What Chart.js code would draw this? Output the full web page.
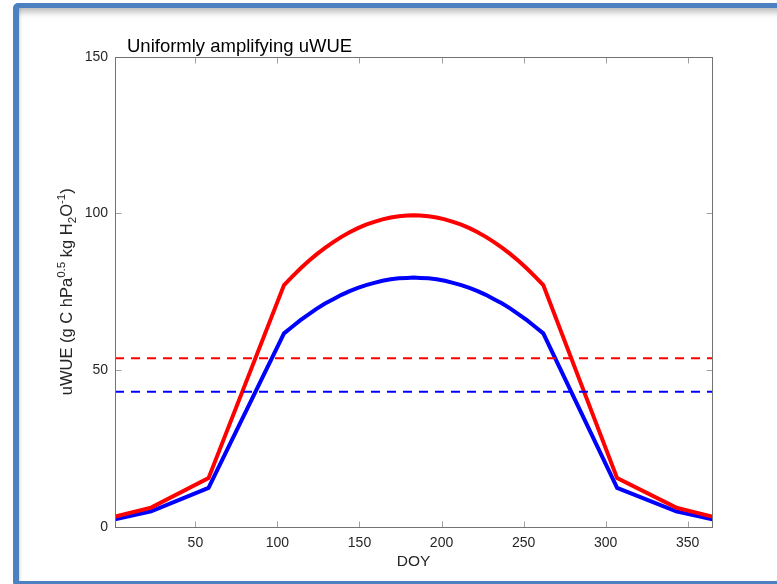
<!DOCTYPE html>
<html>
<head>
<meta charset="utf-8">
<title>Uniformly amplifying uWUE</title>
<script src="https://cdn.jsdelivr.net/npm/chart.js@4.4.1/dist/chart.umd.min.js"></script>
<style>
    html, body { margin: 0; padding: 0; background: #fff; overflow: hidden; width: 777px; height: 584px; }
    #frame {
        position: absolute; left: 13px; top: 3px;
        width: 820px; height: 584px; box-sizing: border-box;
        border: 6px solid #4c80c0; border-top-width: 5px;
        border-radius: 5px;
        box-shadow: inset 0 9px 7px -5px rgba(0, 0, 0, 0.28), inset 3px 0 3px -2px rgba(0, 0, 0, 0.15);
    }
    #chart { position: absolute; left: 0; top: 0; }
</style>
</head>
<body>
<div id="frame"></div>
<canvas id="chart" width="777" height="584"></canvas>
<script>
// Day of year and uWUE for the two scenarios
const doy = [1, 23, 58,
    104, 109, 114, 119, 124, 129, 134, 139, 144, 149, 154, 159, 164, 169, 174, 179,
    183, 187, 192, 197, 202, 207, 212, 217, 222, 227, 232, 237, 242, 247, 252, 257, 262,
    307, 343, 365];
const uwueRed = [3.2, 6.1, 15.5,
    77.1, 79.8, 82.4, 84.8, 87.0, 89.0, 90.8, 92.5, 94.0, 95.3, 96.4, 97.3, 98.1, 98.7, 99.1, 99.3,
    99.4, 99.3, 99.1, 98.7, 98.1, 97.3, 96.4, 95.3, 94.0, 92.5, 90.8, 89.0, 87.0, 84.8, 82.4, 79.8, 77.1,
    15.5, 6.1, 3.2];
const uwueBlue = [2.4, 4.9, 12.4,
    61.7, 63.8, 65.9, 67.8, 69.6, 71.2, 72.6, 74.0, 75.2, 76.2, 77.1, 77.8, 78.5, 79.0, 79.3, 79.4,
    79.5, 79.4, 79.3, 79.0, 78.5, 77.8, 77.1, 76.2, 75.2, 74.0, 72.6, 71.2, 69.6, 67.8, 65.9, 63.8, 61.7,
    12.4, 4.9, 2.4];

// Annual means (dashed lines)
const meanRed = 53.8;
const meanBlue = 43.1;

// Axes
const xRange = [1, 365];
const yRange = [0, 150];
const xTicks = [50, 100, 150, 200, 250, 300, 350];
const yTicks = [0, 50, 100, 150];

const FONT = '"Liberation Sans", Arial, Helvetica, sans-serif';

function toPoints(xs, ys) {
    return xs.map((v, i) => ({ x: v, y: ys[i] }));
}

function flatLine(value) {
    return xRange.map(v => ({ x: v, y: value }));
}

// Draws a run of text pieces with super/subscripts, centred on (0, 0)
function drawRichText(ctx, parts, size) {
    const widths = parts.map(p => {
        ctx.font = ((p.sup || p.sub) ? size * 0.7 : size) + 'px ' + FONT;
        return ctx.measureText(p.t).width;
    });
    const total = widths.reduce((a, b) => a + b, 0);
    let cx = -total / 2;
    parts.forEach((p, i) => {
        ctx.font = ((p.sup || p.sub) ? size * 0.7 : size) + 'px ' + FONT;
        let dy = 0;
        if (p.sup) dy = -size * 0.45;
        if (p.sub) dy = size * 0.25;
        ctx.fillText(p.t, cx, dy);
        cx += widths[i];
    });
}

// Box, inward ticks, title and axis labels, MATLAB style
const axisFrame = {
    id: 'axisFrame',
    afterDatasetsDraw(chart) {
        const { ctx, chartArea: a, scales: { x, y } } = chart;
        const L = Math.round(a.left) + 0.5;
        const R = Math.round(a.right) + 0.5;
        const T = Math.round(a.top) + 0.5;
        const B = Math.round(a.bottom) + 0.5;
        const tl = 6;

        ctx.save();
        ctx.lineWidth = 1;
        ctx.strokeStyle = '#a0a0a0';
        ctx.beginPath();
        xTicks.forEach(v => {
            const px = Math.round(x.getPixelForValue(v)) + 0.5;
            ctx.moveTo(px, B); ctx.lineTo(px, B - tl);
            ctx.moveTo(px, T); ctx.lineTo(px, T + tl);
        });
        yTicks.forEach(v => {
            const py = Math.round(y.getPixelForValue(v)) + 0.5;
            ctx.moveTo(L, py); ctx.lineTo(L + tl, py);
            ctx.moveTo(R, py); ctx.lineTo(R - tl, py);
        });
        ctx.stroke();

        ctx.strokeStyle = '#737373';
        ctx.strokeRect(L, T, R - L, B - T);

        // title
        ctx.fillStyle = '#000';
        ctx.font = '18.5px ' + FONT;
        ctx.textAlign = 'left';
        ctx.textBaseline = 'alphabetic';
        ctx.fillText('Uniformly amplifying uWUE', 127, 52);

        // x label
        ctx.fillStyle = '#262626';
        ctx.font = '15.5px ' + FONT;
        ctx.textAlign = 'center';
        ctx.fillText('DOY', (a.left + a.right) / 2, 566);

        // y label
        ctx.translate(72, (a.top + a.bottom) / 2);
        ctx.rotate(-Math.PI / 2);
        ctx.textAlign = 'left';
        drawRichText(ctx, [
            { t: 'uWUE (g C hPa' },
            { t: '0.5', sup: true },
            { t: ' kg H' },
            { t: '2', sub: true },
            { t: 'O' },
            { t: '-1', sup: true },
            { t: ')' }
        ], 16.5);
        ctx.restore();
    }
};

const ctx = document.getElementById('chart').getContext('2d');

new Chart(ctx, {
    type: 'line',
    data: {
        datasets: [
            {
                data: toPoints(doy, uwueRed),
                borderColor: '#ff0000',
                borderWidth: 4,
                order: 1
            },
            {
                data: toPoints(doy, uwueBlue),
                borderColor: '#0000ff',
                borderWidth: 4,
                order: 2
            },
            {
                data: flatLine(meanRed),
                borderColor: '#ff0000',
                borderWidth: 2,
                borderDash: [9, 7],
                order: 0
            },
            {
                data: flatLine(meanBlue),
                borderColor: '#0000ff',
                borderWidth: 2,
                borderDash: [9, 7],
                order: 0
            }
        ]
    },
    options: {
        responsive: false,
        animation: false,
        events: [],
        layout: {
            padding: { left: 0, top: 56.7, right: 64.7, bottom: 0 }
        },
        elements: {
            point: { radius: 0 },
            line: { tension: 0, fill: false, borderJoinStyle: 'miter', borderCapStyle: 'butt' }
        },
        plugins: {
            legend: { display: false },
            tooltip: { enabled: false },
            title: { display: false }
        },
        scales: {
            x: {
                type: 'linear',
                min: xRange[0],
                max: xRange[1],
                afterBuildTicks: scale => { scale.ticks = xTicks.map(v => ({ value: v })); },
                afterFit: scale => { scale.height = 57.3; },
                grid: { display: false, drawTicks: false },
                border: { display: false },
                ticks: {
                    color: '#262626',
                    padding: 8,
                    maxRotation: 0,
                    autoSkip: false,
                    font: { family: FONT, size: 14 }
                }
            },
            y: {
                type: 'linear',
                min: yRange[0],
                max: yRange[1],
                afterBuildTicks: scale => { scale.ticks = yTicks.map(v => ({ value: v })); },
                afterFit: scale => { scale.width = 115; },
                grid: { display: false, drawTicks: false },
                border: { display: false },
                ticks: {
                    color: '#262626',
                    padding: 7,
                    autoSkip: false,
                    font: { family: FONT, size: 14 }
                }
            }
        }
    },
    plugins: [axisFrame]
});
</script>
</body>
</html>
